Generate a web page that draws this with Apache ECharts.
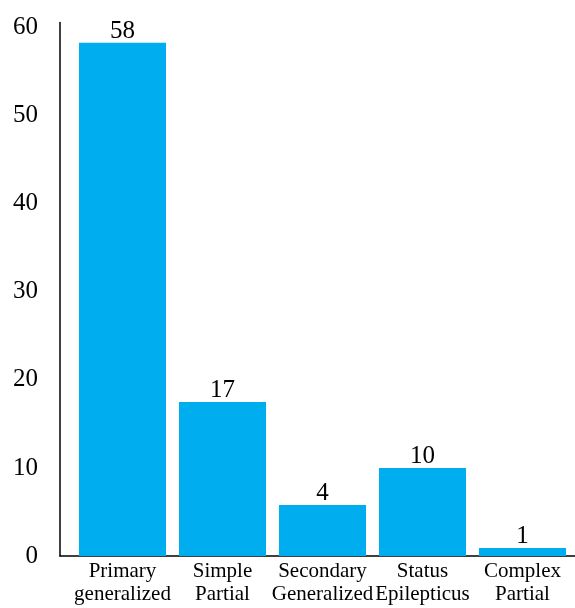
<!DOCTYPE html>
<html><head><meta charset="utf-8">
<script src="https://cdn.jsdelivr.net/npm/echarts@6/dist/echarts.min.js"></script>
<style>html,body{margin:0;padding:0;background:#fff}#c{width:575px;height:608px}</style>
</head><body><div id="c"></div>
<script>
var categories = ['Primary\ngeneralized', 'Simple\nPartial', 'Secondary\nGeneralized', 'Status\nEpilepticus', 'Complex\nPartial'];
var barHeights = [58.3, 17.5, 5.8, 10, 0.9];
var valueLabels = ['58', '17', '4', '10', '1'];
var yTicks = [0, 10, 20, 30, 40, 50, 60];

var font = 'Liberation Serif';
var chart = echarts.init(document.getElementById('c'));
chart.setOption({
  animation: false,
  grid: [
    {left: 60, right: 0, top: 22.5, bottom: 52},
    {left: 72.5, right: 2.5, top: 22.5, bottom: 52}
  ],
  xAxis: [
    {gridIndex: 0, type: 'value', min: 0, max: 1, axisLine: {show: true, lineStyle: {color: '#000', width: 1.5}},
     axisTick: {show: false}, axisLabel: {show: false}, splitLine: {show: false}},
    {gridIndex: 1, type: 'category', data: categories, axisLine: {show: false}, axisTick: {show: false},
     axisLabel: {interval: 0, color: '#000', fontFamily: font, fontSize: 21, lineHeight: 23, margin: 4}}
  ],
  yAxis: [
    {gridIndex: 0, type: 'value', min: 0, max: 60.6, interval: 10,
     axisLine: {show: true, lineStyle: {color: '#000', width: 1.5}}, axisTick: {show: false}, splitLine: {show: false},
     axisLabel: {color: '#000', fontFamily: font, fontSize: 25, margin: 22,
       formatter: function (v) { return yTicks.indexOf(v) >= 0 ? String(v) : ''; }}},
    {gridIndex: 1, type: 'value', min: 0, max: 60.6, show: false}
  ],
  series: [{
    type: 'bar', xAxisIndex: 1, yAxisIndex: 1, data: barHeights, barWidth: 87,
    itemStyle: {color: '#00ADEE'},
    label: {show: true, position: 'top', distance: -1, color: '#000', fontFamily: font, fontSize: 25,
      formatter: function (p) { return valueLabels[p.dataIndex]; }}
  }]
});
</script></body></html>
